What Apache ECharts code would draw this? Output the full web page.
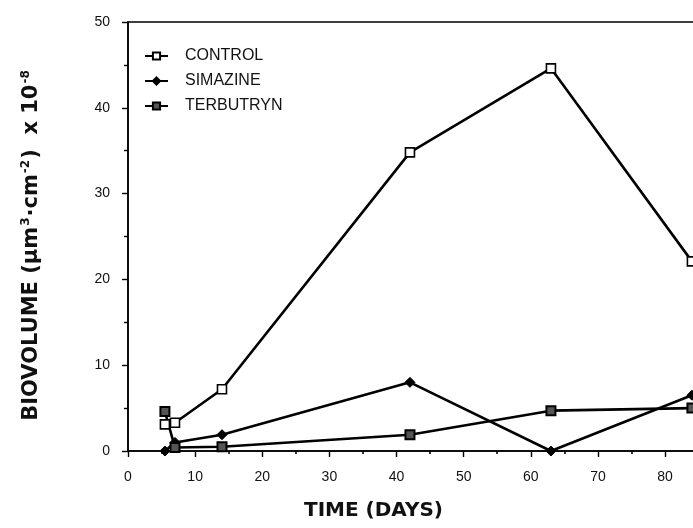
<!DOCTYPE html>
<html>
<head>
<meta charset="utf-8">
<script src="https://cdn.jsdelivr.net/npm/echarts@6/dist/echarts.min.js"></script>
<style>
  html, body { margin: 0; padding: 0; background: #fff; }
  #chart { width: 693px; height: 528px; }
</style>
</head>
<body>
<div id="chart"></div>
<script>
// Sampling days (x) and biovolume values (y, x 10^-8 scale) per treatment
const days = [5.5, 7, 14, 42, 63, 84];
const controlValues = [3.1, 3.3, 7.2, 34.8, 44.6, 22.1];
const simazineValues = [0, 1.0, 1.9, 8.0, 0, 6.5];
const terbutrynValues = [4.6, 0.4, 0.5, 1.9, 4.7, 5.0];
const seriesNames = ['CONTROL', 'SIMAZINE', 'TERBUTRYN'];
const xTicks = [0, 10, 20, 30, 40, 50, 60, 70, 80];
const yTicks = [0, 10, 20, 30, 40, 50];

const pairs = (vals) => days.map((d, i) => [d, vals[i]]);

const font = '"Liberation Sans", Arial, Helvetica, sans-serif';
const chart = echarts.init(document.getElementById('chart'), null, { renderer: 'canvas' });

const lineBase = {
  type: 'line',
  lineStyle: { color: '#000', width: 2.6 },
  showSymbol: true,
  animation: false,
  z: 3
};

chart.setOption({
  backgroundColor: '#fff',
  animation: false,
  // plot area runs past the right edge of the page, so its right border is off-canvas
  grid: {
    left: 128, top: 22, width: 576, height: 429,
    outerBoundsMode: 'none',
    containLabel: false,
    show: true, borderColor: '#000', borderWidth: 1.5, backgroundColor: 'transparent'
  },
  legend: {
    orient: 'vertical',
    left: 139, top: 43,
    itemWidth: 23, itemHeight: 9, itemGap: 9,
    data: seriesNames,
    textStyle: { fontFamily: font, fontSize: 16, color: '#111', padding: [0, 0, 0, 12] }
  },
  xAxis: {
    type: 'value',
    min: 0, max: 85.8, interval: 10,
    axisLine: { lineStyle: { color: '#000', width: 1.6 } },
    axisTick: { show: true, length: 6, lineStyle: { color: '#000', width: 1.4 } },
    minorTick: { show: true, splitNumber: 2, length: 3, lineStyle: { color: '#000', width: 1.6 } },
    splitLine: { show: false },
    axisLabel: {
      margin: 19, color: '#111', fontFamily: font, fontSize: 14,
      formatter: (v) => (xTicks.includes(v) ? String(v) : '')
    }
  },
  yAxis: {
    type: 'value',
    min: 0, max: 50, interval: 10,
    axisLine: { lineStyle: { color: '#000', width: 1.6 } },
    axisTick: { show: true, length: 6, lineStyle: { color: '#000', width: 1.4 } },
    minorTick: { show: true, splitNumber: 2, length: 4, lineStyle: { color: '#000', width: 1.4 } },
    splitLine: { show: false },
    axisLabel: {
      margin: 18, color: '#111', fontFamily: font, fontSize: 14,
      formatter: (v) => (yTicks.includes(v) ? String(v) : '')
    }
  },
  graphic: [
    {
      type: 'text',
      left: 304, top: 501,
      style: {
        text: 'TIME (DAYS)',
        font: 'bold 20px "DejaVu Sans", ' + font,
        fill: '#111'
      }
    },
    {
      type: 'text',
      x: 31, y: 245,
      rotation: Math.PI / 2,
      style: {
        text: '{b|BIOVOLUME (μm}{s|3}{b|·cm}{s|-2}{b|)  x 10}{s|-8}',
        align: 'center',
        verticalAlign: 'middle',
        fill: '#111',
        rich: {
          b: { font: 'bold 21px "DejaVu Sans", ' + font, fill: '#111', verticalAlign: 'bottom', lineHeight: 22 },
          s: { font: 'bold 12px "DejaVu Sans", ' + font, fill: '#111', verticalAlign: 'top', lineHeight: 22, padding: [0, 1, 4, 1] }
        }
      }
    }
  ],
  series: [
    Object.assign({}, lineBase, {
      name: 'CONTROL',
      data: pairs(controlValues),
      symbol: 'rect', symbolSize: 9,
      itemStyle: { color: '#fff', borderColor: '#000', borderWidth: 1.6 }
    }),
    Object.assign({}, lineBase, {
      name: 'SIMAZINE',
      data: pairs(simazineValues),
      symbol: 'diamond', symbolSize: 10,
      itemStyle: { color: '#000', borderColor: '#000', borderWidth: 1 }
    }),
    Object.assign({}, lineBase, {
      name: 'TERBUTRYN',
      data: pairs(terbutrynValues),
      symbol: 'rect', symbolSize: 9,
      itemStyle: { color: '#555', borderColor: '#000', borderWidth: 2 }
    })
  ]
});
</script>
</body>
</html>
